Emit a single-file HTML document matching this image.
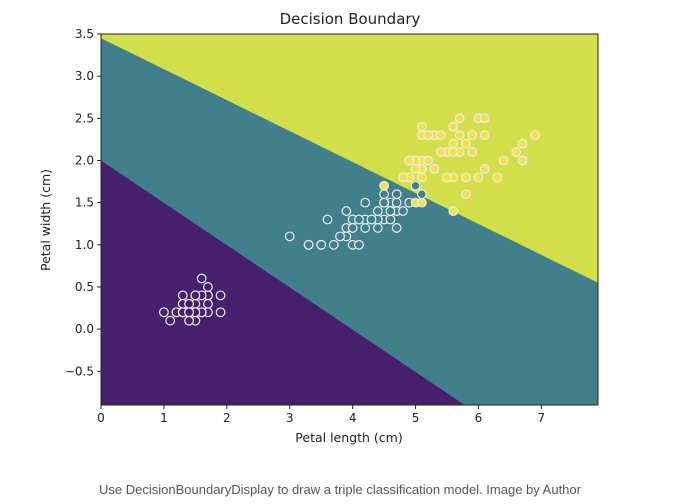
<!DOCTYPE html>
<html><head><meta charset="utf-8">
<style>
body{margin:0;background:#fff;width:680px;height:499px;overflow:hidden;font-family:"Liberation Sans","DejaVu Sans",sans-serif;}
svg text{font-family:"DejaVu Sans","Liberation Sans",sans-serif;}
</style></head>
<body>
<svg id="chart" width="680" height="499" xmlns="http://www.w3.org/2000/svg">
<text x="350" y="24" text-anchor="middle" font-size="15" fill="#222">Decision Boundary</text>
<text x="349" y="442" text-anchor="middle" font-size="12.5" fill="#222">Petal length (cm)</text>
<text transform="translate(50,220) rotate(-90)" text-anchor="middle" font-size="12.5" fill="#222">Petal width (cm)</text>
<text x="340" y="494" text-anchor="middle" font-size="13" fill="#555" style="font-family:'Liberation Sans',sans-serif">Use DecisionBoundaryDisplay to draw a triple classification model. Image by Author</text>
<g id="plot"></g>
</svg>
<script>
const xDomain=[0,7.9], yDomain=[-0.9,3.5];
const xTicks=[0,1,2,3,4,5,6,7];
const yTicks=[-0.5,0.0,0.5,1.0,1.5,2.0,2.5,3.0,3.5];
const yTickLabels=["−0.5","0.0","0.5","1.0","1.5","2.0","2.5","3.0","3.5"];
// boundary lines: [x0,y0,x1,y1] in data units
const boundary01=[0,2.0,5.78,-0.9];
const boundary12=[0,3.45,7.9,0.55];
const setosaX=[1.4,1.4,1.3,1.5,1.4,1.7,1.4,1.5,1.4,1.5,1.5,1.6,1.4,1.1,1.2,1.5,1.3,1.4,1.7,1.5,1.7,1.5,1.0,1.7,1.9,1.6,1.6,1.5,1.4,1.6,1.6,1.5,1.5,1.4,1.5,1.2,1.3,1.4,1.3,1.5,1.3,1.3,1.3,1.6,1.9,1.4,1.6,1.4,1.5,1.4];
const setosaY=[0.2,0.2,0.2,0.2,0.2,0.4,0.3,0.2,0.2,0.1,0.2,0.2,0.1,0.1,0.2,0.4,0.4,0.3,0.3,0.3,0.2,0.4,0.2,0.5,0.2,0.2,0.4,0.2,0.2,0.2,0.2,0.4,0.1,0.2,0.2,0.2,0.2,0.1,0.2,0.2,0.3,0.3,0.2,0.6,0.4,0.3,0.2,0.2,0.2,0.2];
const versiX=[4.7,4.5,4.9,4.0,4.6,4.5,4.7,3.3,4.6,3.9,3.5,4.2,4.0,4.7,3.6,4.4,4.5,4.1,4.5,3.9,4.8,4.0,4.9,4.7,4.3,4.4,4.8,5.0,4.5,3.5,3.8,3.7,3.9,5.1,4.5,4.5,4.7,4.4,4.1,4.0,4.4,4.6,4.0,3.3,4.2,4.2,4.2,4.3,3.0,4.1];
const versiY=[1.4,1.5,1.5,1.3,1.5,1.3,1.6,1.0,1.3,1.4,1.0,1.5,1.0,1.4,1.3,1.4,1.5,1.0,1.5,1.1,1.8,1.3,1.5,1.2,1.3,1.4,1.4,1.7,1.5,1.0,1.1,1.0,1.2,1.6,1.5,1.6,1.5,1.3,1.3,1.3,1.2,1.4,1.2,1.0,1.3,1.2,1.3,1.3,1.1,1.3];
const virgX=[6.0,5.1,5.9,5.6,5.8,6.6,4.5,6.3,5.8,6.1,5.1,5.3,5.5,5.0,5.1,5.3,5.5,6.7,6.9,5.0,5.7,4.9,6.7,4.9,5.7,6.0,4.8,4.9,5.6,5.8,6.1,6.4,5.6,5.1,5.6,6.1,5.6,5.5,4.8,5.4,5.6,5.1,5.1,5.9,5.7,5.2,5.0,5.2,5.4,5.1];
const virgY=[2.5,1.9,2.1,1.8,2.2,2.1,1.7,1.8,1.8,2.5,2.0,1.9,2.1,2.0,2.4,2.3,1.8,2.2,2.3,1.5,2.3,2.0,2.0,1.8,2.1,1.8,1.8,1.8,2.1,1.6,1.9,2.0,2.2,1.5,1.4,2.3,2.4,1.8,1.8,2.1,2.4,2.3,1.9,2.3,2.5,2.3,1.9,2.0,2.3,1.8];

const L=101,R=598,T=34,B=405;
const sx=v=>L+(v-xDomain[0])/(xDomain[1]-xDomain[0])*(R-L);
const sy=v=>B-(v-yDomain[0])/(yDomain[1]-yDomain[0])*(B-T);
const NS="http://www.w3.org/2000/svg";
const svg=document.getElementById('chart');
const g=document.getElementById('plot');
function mk(tag,attrs,parent){const e=document.createElementNS(NS,tag);for(const k in attrs)e.setAttribute(k,attrs[k]);(parent||g).appendChild(e);return e;}
const cp=mk('clipPath',{id:'clip'});mk('rect',{x:L,y:T,width:R-L,height:B-T},cp);
const regions=mk('g',{'clip-path':'url(#clip)'});


let r=mk('rect',{x:L,y:T,width:R-L,height:B-T,fill:'#d2df4b'},regions);


let p=mk('polygon',{points:`${sx(boundary12[0])},${sy(boundary12[1])} ${sx(boundary12[2])},${sy(boundary12[3])} ${R+5},${B+5} ${L-5},${B+5}`,fill:'#417f8b'},regions);


p=mk('polygon',{points:`${sx(boundary01[0])},${sy(boundary01[1])} ${sx(boundary01[2])},${sy(boundary01[3])} ${L-5},${B+5}`,fill:'#46206d'},regions);


function pts(X,Y,fill,name){
  const grp=mk('g',{});
  
  
  for(let i=0;i<X.length;i++){
    const c=mk('circle',{cx:sx(X[i]),cy:sy(Y[i]),r:4.3,fill:fill,stroke:'#e8eef0','stroke-width':1.2},grp);
    
    
  }
}
pts(setosaX,setosaY,'#46206d','setosa');
pts(versiX,versiY,'#417f8b','versicolor');
pts(virgX,virgY,'#f2e24e','virginica');
const frame=mk('rect',{x:L,y:T,width:R-L,height:B-T,fill:'none',stroke:'#222','stroke-width':1});


xTicks.forEach(t=>{
  const x=sx(t);
  const l=mk('line',{x1:x,x2:x,y1:B,y2:B+4,stroke:'#222'});
  
  
  const tx=mk('text',{x:x,y:B+17,'text-anchor':'middle','font-size':12,fill:'#222'});
  tx.textContent=String(t);
  
  
});
yTicks.forEach((t,i)=>{
  const y=sy(t);
  const l=mk('line',{x1:L-4,x2:L,y1:y,y2:y,stroke:'#222'});
  
  
  const tx=mk('text',{x:L-7,y:y+4,'text-anchor':'end','font-size':12,fill:'#222'});
  tx.textContent=yTickLabels[i];
  
  
});
</script>
</body></html>
